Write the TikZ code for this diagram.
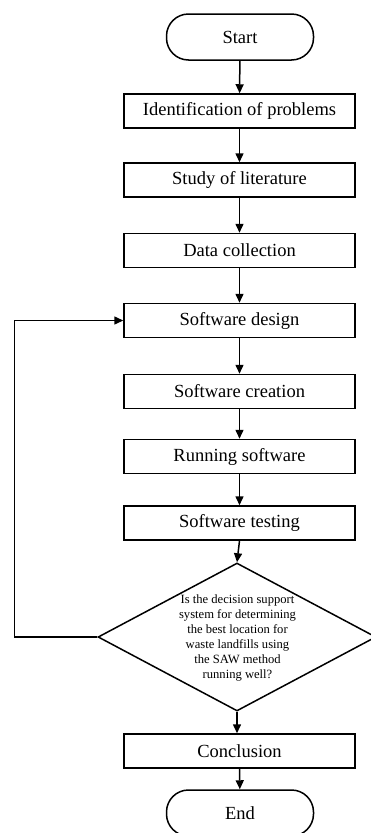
\documentclass[tikz,border=0pt]{standalone}
\usepackage{fontspec}
\setmainfont{Liberation Serif}
\usetikzlibrary{shapes.geometric,arrows.meta}
\begin{document}
\begin{tikzpicture}[x=1pt,y=-1pt,
  line width=1.5pt,
  box/.style={draw, rectangle, minimum width=231pt, minimum height=34pt, inner sep=0pt, font=\fontsize{18.5}{22}\selectfont},
  term/.style={draw, rectangle, rounded corners=22pt, minimum width=147pt, minimum height=46pt, inner sep=0pt, font=\fontsize{18.5}{22}\selectfont},
  arr/.style={-{Triangle[length=9pt,width=8pt]}}
]
\useasboundingbox (0,0) rectangle (370,833);
\node[term] (start) at (240,37) {Start};
\node[box] (ident) at (239.5,111) {Identification of problems};
\node[box] (study) at (239.5,180) {Study of literature};
\node[box] (data) at (239.5,250.5) {Data collection};
\node[box] (design) at (239.5,320.5) {Software design};
\node[box] (create) at (239.5,391.5) {Software creation};
\node[box] (run) at (239.5,456.5) {Running software};
\node[box] (test) at (239.5,523) {Software testing};
\node[draw, diamond, minimum width=278pt, minimum height=148pt, inner sep=0pt] (dec) at (237,637) {};
\node[align=center, inner sep=0pt, font=\fontsize{12.6}{15}\selectfont] (dectext) at (237.5,638) {Is the decision support\\system for determining\\the best location for\\waste landfills using\\the SAW method\\running well?};
\node[box] (concl) at (239.5,751) {Conclusion};
\node[term] (end) at (240,813) {End};

\draw[arr] (start) -- (ident);
\draw[arr] (ident) -- (study);
\draw[arr] (study) -- (data);
\draw[arr] (data) -- (design);
\draw[arr] (design) -- (create);
\draw[arr] (create) -- (run);
\draw[arr] (run) -- (test);
\draw[arr] (test.south) -- (dec.north);
\draw[arr] (dec.south) -- (dec.south |- concl.north);
\draw[arr] (concl) -- (end);
\draw[arr] (dec.west) -- ++(-83,0) |- (design.west);
\end{tikzpicture}
\end{document}
